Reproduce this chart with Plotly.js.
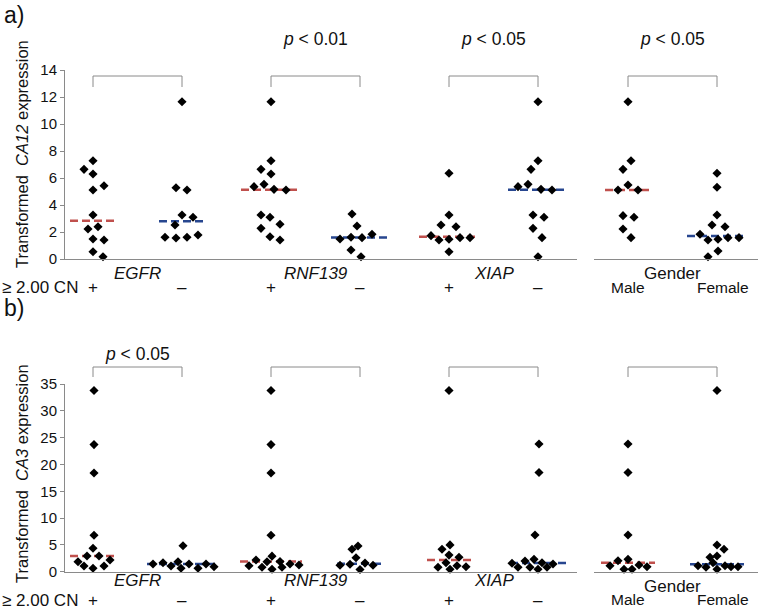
<!DOCTYPE html>
<html>
<head>
<meta charset="utf-8">
<script src="https://cdn.plot.ly/plotly-3.0.1.min.js"></script>
<style>
  html, body { margin: 0; padding: 0; background: #fff; }
  #chart { width: 762px; height: 611px; }
</style>
</head>
<body>
<div id="chart"></div>
<script>
// group order: EGFR+, EGFR-, RNF139+, RNF139-, XIAP+, XIAP-, Male, Female
const signLabels = ['+', '\u2013', '+', '\u2013', '+', '\u2013', 'Male', 'Female'];
const geneLabels = ['<i>EGFR</i>', '<i>RNF139</i>', '<i>XIAP</i>', 'Gender'];
const ca12PLabels = ['', '<i>p</i> < 0.01', '<i>p</i> < 0.05', '<i>p</i> < 0.05'];
const ca3PLabels = ['<i>p</i> < 0.05', '', '', ''];

// transformed CA12 expression, one list per group
const ca12Values = [
    [7.28, 6.64, 6.30, 5.11, 5.43, 3.26, 2.22, 2.39, 1.48, 1.41, 0.54, 0.17],
    [11.65, 5.28, 5.11, 3.26, 3.09, 2.52, 1.61, 1.56, 1.61, 1.78],
    [11.65, 7.28, 6.64, 6.30, 5.36, 5.53, 5.16, 5.11, 3.26, 3.09, 2.57, 2.27, 1.65, 1.41],
    [3.33, 2.44, 1.48, 1.61, 1.58, 1.83, 0.67, 0.17],
    [6.35, 3.26, 2.52, 2.39, 1.73, 1.41, 1.46, 1.58, 1.58, 0.54],
    [11.65, 7.28, 6.64, 5.36, 5.53, 5.16, 5.11, 3.26, 3.09, 2.27, 1.58, 0.17],
    [11.65, 7.28, 6.64, 5.11, 5.48, 5.11, 3.21, 3.09, 2.22, 1.58],
    [6.35, 5.31, 3.26, 2.52, 2.39, 1.83, 1.41, 1.46, 1.58, 1.58, 0.59, 0.17]
];
// sideways spread of the dots (pixels)
const ca12Jitter = [
    [0, -9, 0, 0, 11, 0, -5, 5, 0, 11, 0, 10],
    [0, -6, 5, 0, 11, -7, -17, -6, 5, 16],
    [0, 0, -10, 0, -17, -7, 3, 15, -10, -1, 9, -10, -1, 9],
    [-8, -3, -20, -9, 2, 12, -9, 1],
    [0, 0, -8, 7, -18, -10, 0, 11, 21, 0],
    [0, 0, -7, -20, -10, 3, 14, -5, 6, -5, 4, 0],
    [0, 3, -5, -10, 0, 10, -5, 6, -5, 3],
    [0, 0, 0, -5, 8, -17, -9, 1, 11, 22, 1, -9]
];

// transformed CA3 expression
const ca3Values = [
    [33.8, 23.7, 18.4, 6.8, 4.36, 2.93, 2.93, 1.86, 1.06, 0.63, 1.06, 2.18],
    [4.85, 1.44, 1.68, 1.06, 1.86, 0.63, 1.44, 0.63, 1.44, 0.93],
    [33.8, 23.7, 18.4, 6.8, 2.9, 2.18, 1.12, 0.82, 1.86, 0.45, 0.82, 1.9, 1.44, 1.25],
    [4.2, 4.8, 2.6, 1.2, 1.4, 0.4, 1.6, 1.2],
    [33.8, 4.2, 5.0, 3.1, 2.7, 0.82, 1.68, 0.45, 1.12, 0.93],
    [23.8, 18.5, 6.84, 1.57, 0.82, 2.0, 0.82, 2.3, 0.45, 1.68, 0.82, 1.44],
    [23.8, 18.5, 6.84, 1.12, 2.05, 0.45, 2.3, 0.45, 1.25, 0.93],
    [33.8, 4.98, 4.18, 2.69, 2.93, 1.68, 1.12, 0.82, 0.45, 1.12, 0.93, 0.93]
];
const ca3Jitter = [
    [1, 1, 1, 1, 0, -6, 6, -15, -9, 0, 11, 17],
    [1, -29, -19, -11, -4, -1, 7, 16, 24, 32],
    [0, 0, 0, 0, 1, -15, -22, -9, -4, 1, 11, 9, 19, 28],
    [-8, -2, -4, -20, -10, 0, 5, 13],
    [0, -7, 1, 0, 10, -11, -3, 1, 8, 17],
    [1, 1, -3, -26, -20, -13, -8, -4, 0, 4, 9, 15],
    [0, 0, 0, -18, -10, -4, 0, 4, 11, 19],
    [0, 0, 7, -7, 0, -4, -19, -11, 0, 8, 14, 21]
];

// half length of the median dashes (pixels)
const ca12MedHalf = [23, 23, 30, 29, 30, 30, 23, 30];
const ca3MedHalf = [23, 35, 31, 23, 22, 28, 27, 27];

const W = 762, H = 611, ML = 65, MR = 4;
const STEP = 89; // pixels between neighbouring groups
const lineGray = '#8a8a8a';
const red = '#c0504d';
const blue = '#27468f';
const font = 'Liberation Sans, Arial, sans-serif';

function pxX(px) { return (px - ML) / (W - ML - MR); }
function pxY(py) { return 1 - py / H; }

function median(arr) {
    const s = arr.slice().sort((a, b) => a - b);
    const m = Math.floor(s.length / 2);
    return s.length % 2 ? s[m] : (s[m - 1] + s[m]) / 2;
}

const traces = [];
const shapes = [];
const annotations = [];

function addPanel(values, jitter, medHalf, bottom) {
    const xa = bottom ? ['x3', 'x4'] : ['x', 'x2'];
    const ya = bottom ? 'y2' : 'y';
    values.forEach((vals, g) => {
        const xref = g < 6 ? xa[0] : xa[1];
        const med = median(vals);
        traces.push({
            x: [g - medHalf[g] / STEP, g + medHalf[g] / STEP],
            y: [med, med],
            xaxis: xref, yaxis: ya,
            mode: 'lines',
            line: { color: g % 2 === 0 ? red : blue, width: 2.5, dash: '8px,4px' },
            hoverinfo: 'skip'
        });
    });
    values.forEach((vals, g) => {
        const xref = g < 6 ? xa[0] : xa[1];
        traces.push({
            x: vals.map((v, i) => g + jitter[g][i] / STEP),
            y: vals,
            xaxis: xref, yaxis: ya,
            mode: 'markers',
            cliponaxis: false,
            marker: { symbol: 'diamond', size: 7, color: '#000' }
        });
    });
}

addPanel(ca12Values, ca12Jitter, ca12MedHalf, false);
addPanel(ca3Values, ca3Jitter, ca3MedHalf, true);

// brackets, p values, gene and sign labels
function addLabels(pLabels, bottom) {
    const xa = bottom ? ['x3', 'x4'] : ['x', 'x2'];
    const brTop = bottom ? 367 : 76;
    const brBot = bottom ? 377 : 87;
    const pY = bottom ? 354 : 39;
    const geneY = bottom ? 580 : 273;
    const signY = bottom ? 600 : 288;
    for (let k = 0; k < 4; k++) {
        const xref = k < 3 ? xa[0] : xa[1];
        const a = 2 * k, b = 2 * k + 1;
        shapes.push({
            type: 'path', xref: xref, yref: 'paper',
            path: `M${a},${pxY(brBot)} L${a},${pxY(brTop)} L${b},${pxY(brTop)} L${b},${pxY(brBot)}`,
            line: { color: lineGray, width: 1 }
        });
        if (pLabels[k]) {
            annotations.push({
                text: pLabels[k], xref: xref, yref: 'paper', x: a + 0.5, y: pxY(pY),
                showarrow: false, xanchor: 'center', yanchor: 'middle',
                font: { size: 17.5, color: '#111' }
            });
        }
        annotations.push({
            text: geneLabels[k], xref: xref, yref: 'paper', x: a + 0.5,
            y: pxY(k === 3 && bottom ? geneY + 6 : geneY),
            showarrow: false, xanchor: 'center', yanchor: 'middle',
            font: { size: 17, color: '#111' }
        });
    }
    signLabels.forEach((s, g) => {
        annotations.push({
            text: s, xref: g < 6 ? xa[0] : xa[1], yref: 'paper',
            x: g === 7 ? g + 6 / STEP : g, y: pxY(g < 6 ? signY : signY - 1),
            showarrow: false, xanchor: 'center', yanchor: 'middle',
            font: { size: g < 6 ? 17 : 15.5, color: '#111' }
        });
    });
    annotations.push({
        text: '\u2265 2.00 CN', xref: 'paper', yref: 'paper', x: pxX(0), y: pxY(signY),
        showarrow: false, xanchor: 'left', yanchor: 'middle',
        font: { size: 17, color: '#111' }
    });
}

addLabels(ca12PLabels, false);
addLabels(ca3PLabels, true);

annotations.push(
    { text: 'Transformed  <i>CA12</i> expression', xref: 'paper', yref: 'paper',
      x: pxX(22), y: pxY(154), textangle: -90, showarrow: false,
      xanchor: 'center', yanchor: 'middle', font: { size: 16.5, color: '#111' } },
    { text: 'Transformed  <i>CA3</i> expression', xref: 'paper', yref: 'paper',
      x: pxX(22), y: pxY(474), textangle: -90, showarrow: false,
      xanchor: 'center', yanchor: 'middle', font: { size: 16.5, color: '#111' } },
    { text: 'a)', xref: 'paper', yref: 'paper', x: pxX(2), y: pxY(15),
      showarrow: false, xanchor: 'left', yanchor: 'middle', font: { size: 23, color: '#111' } },
    { text: 'b)', xref: 'paper', yref: 'paper', x: pxX(2), y: pxY(308),
      showarrow: false, xanchor: 'left', yanchor: 'middle', font: { size: 23, color: '#111' } }
);

const xBase = {
    showline: true, linecolor: lineGray, linewidth: 1,
    showticklabels: false, ticks: '', showgrid: false, zeroline: false
};
const yBase = {
    showline: true, linecolor: lineGray, linewidth: 1,
    ticks: 'outside', ticklen: 4, tickcolor: lineGray,
    tickfont: { size: 15, color: '#111' },
    showgrid: false, zeroline: false
};
const leftDom = [0, pxX(577)];
const rightDom = [pxX(594), 1];
const leftRange = [-28 / STEP, 5 + 39 / STEP];
const rightRange = [6 - 34 / STEP, 7 + 41 / STEP];

const layout = {
    width: W, height: H,
    margin: { l: ML, r: MR, t: 0, b: 0 },
    paper_bgcolor: '#fff', plot_bgcolor: '#fff',
    font: { family: font, color: '#111' },
    showlegend: false,
    xaxis: Object.assign({}, xBase, { domain: leftDom, range: leftRange, anchor: 'y' }),
    xaxis2: Object.assign({}, xBase, { domain: rightDom, range: rightRange, anchor: 'y' }),
    xaxis3: Object.assign({}, xBase, { domain: leftDom, range: leftRange, anchor: 'y2' }),
    xaxis4: Object.assign({}, xBase, { domain: rightDom, range: rightRange, anchor: 'y2' }),
    yaxis: Object.assign({}, yBase, { domain: [pxY(259), pxY(70)], range: [0, 14], dtick: 2, anchor: 'x' }),
    yaxis2: Object.assign({}, yBase, { domain: [pxY(571.7), pxY(384)], range: [0, 35], dtick: 5, anchor: 'x3' }),
    shapes: shapes,
    annotations: annotations
};

Plotly.newPlot('chart', traces, layout, { staticPlot: true });
</script>
</body>
</html>
